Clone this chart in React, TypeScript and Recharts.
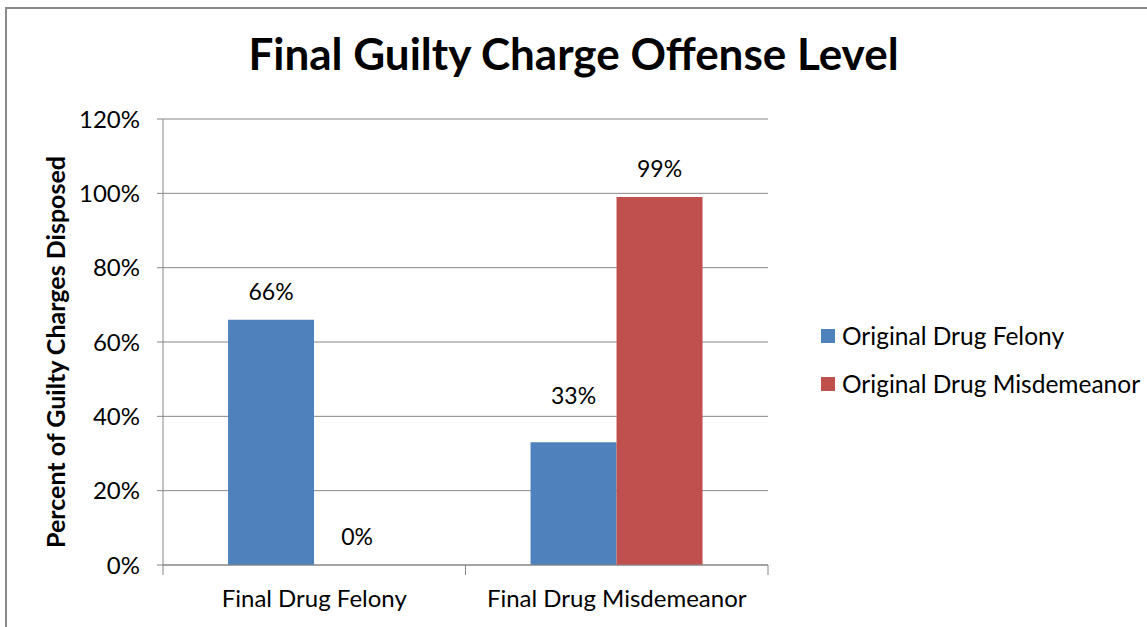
import React from "react";
import {
  BarChart,
  Bar,
  XAxis,
  YAxis,
  CartesianGrid,
  LabelList,
} from "recharts";

const categories = ["Final Drug Felony", "Final Drug Misdemeanor"];
const felonyValues = [66, 33];
const misdemeanorValues = [0, 99];
const seriesNames = ["Original Drug Felony", "Original Drug Misdemeanor"];
const seriesColors = ["#4F81BD", "#C0504D"];
const yTicks = [0, 20, 40, 60, 80, 100, 120];

const data = categories.map((name, i) => ({
  name,
  felony: felonyValues[i],
  misdemeanor: misdemeanorValues[i],
}));

const FONT = "Lato, 'Open Sans', sans-serif";
const W = 1147;
const H = 627;
const margin = { top: 119, right: 379, bottom: 22, left: 63 };
const plotWidth = W - 163 - margin.right;
const halfBand = plotWidth / categories.length / 2;

const CategoryTick = (props: any) => {
  const { x, y, payload } = props;
  return (
    <g>
      <line x1={x - halfBand} x2={x - halfBand} y1={y - 25} y2={y - 15} stroke="#868686" />
      <line x1={x + halfBand} x2={x + halfBand} y1={y - 25} y2={y - 15} stroke="#868686" />
      <text x={x} y={y} dy="0.71em" textAnchor="middle" fontSize={24} fill="#000" fontFamily={FONT}>
        {payload.value}
      </text>
    </g>
  );
};

const ValueLabel = (extra: number[]) => (props: any) => {
  const { x, y, width, value, index } = props;
  const off = extra[index] || 0;
  return (
    <text
      x={x + width / 2}
      y={y - 20 - off}
      textAnchor="middle"
      fontSize={23}
      fill="#000"
      fontFamily={FONT}
    >
      {value}%
    </text>
  );
};

export default function App() {
  return (
    <div
      style={{
        position: "absolute",
        left: 0,
        top: 0,
        width: W,
        height: H,
        overflow: "hidden",
        background: "#fff",
      }}
    >
      <div
        style={{
          position: "absolute",
          left: 0,
          width: W,
          top: 27,
          textAlign: "center",
          fontFamily: FONT,
          fontWeight: 700,
          fontSize: 44,
          color: "#000",
        }}
      >
        Final Guilty Charge Offense Level
      </div>
      <div
        style={{
          position: "absolute",
          left: 55,
          top: 352,
          transform: "translate(-50%, -50%) rotate(-90deg)",
          whiteSpace: "nowrap",
          fontFamily: FONT,
          fontWeight: 700,
          fontSize: 25,
          color: "#000",
        }}
      >
        Percent of Guilty Charges Disposed
      </div>
      <div style={{ position: "absolute", top: 0, left: 0 }}>
        <BarChart width={W} height={H} data={data} margin={margin} barGap={0} barCategoryGap="21.5%">
          <CartesianGrid vertical={false} stroke="#868686" />
          <XAxis
            dataKey="name"
            tickLine={false}
            tickSize={0}
            tickMargin={25}
            height={40}
            stroke="#868686"
            tick={<CategoryTick />}
            interval={0}
          />
          <YAxis
            width={100}
            domain={[0, 120]}
            ticks={yTicks}
            tickFormatter={(v: number) => `${v}%`}
            tickSize={6}
            tickMargin={17}
            stroke="#868686"
            tick={{ fontSize: 24, fill: "#000", fontFamily: FONT }}
          />
          <Bar dataKey="felony" name={seriesNames[0]} fill={seriesColors[0]} isAnimationActive={false}>
            <LabelList dataKey="felony" content={ValueLabel([0, 18])} />
          </Bar>
          <Bar
            dataKey="misdemeanor"
            name={seriesNames[1]}
            fill={seriesColors[1]}
            minPointSize={0.1}
            isAnimationActive={false}
          >
            <LabelList dataKey="misdemeanor" content={ValueLabel([0, 0])} />
          </Bar>
        </BarChart>
      </div>
      {seriesNames.map((n, i) => (
        <div
          key={n}
          style={{
            position: "absolute",
            left: 821,
            top: 321 + i * 48,
            display: "flex",
            alignItems: "center",
            fontFamily: FONT,
            fontSize: 24.5,
            color: "#000",
            whiteSpace: "nowrap",
          }}
        >
          <span style={{ display: "inline-block", width: 14, height: 14, background: seriesColors[i], marginRight: 7 }} />
          {n}
        </div>
      ))}
      {/* outer frame: only the top and left edges are in view */}
      <div style={{ position: "absolute", left: 5, top: 7, width: W, height: 2, background: "#8a8a8a", zIndex: 5 }} />
      <div style={{ position: "absolute", left: 5, top: 7, width: 2, height: H, background: "#8a8a8a", zIndex: 5 }} />
    </div>
  );
}
